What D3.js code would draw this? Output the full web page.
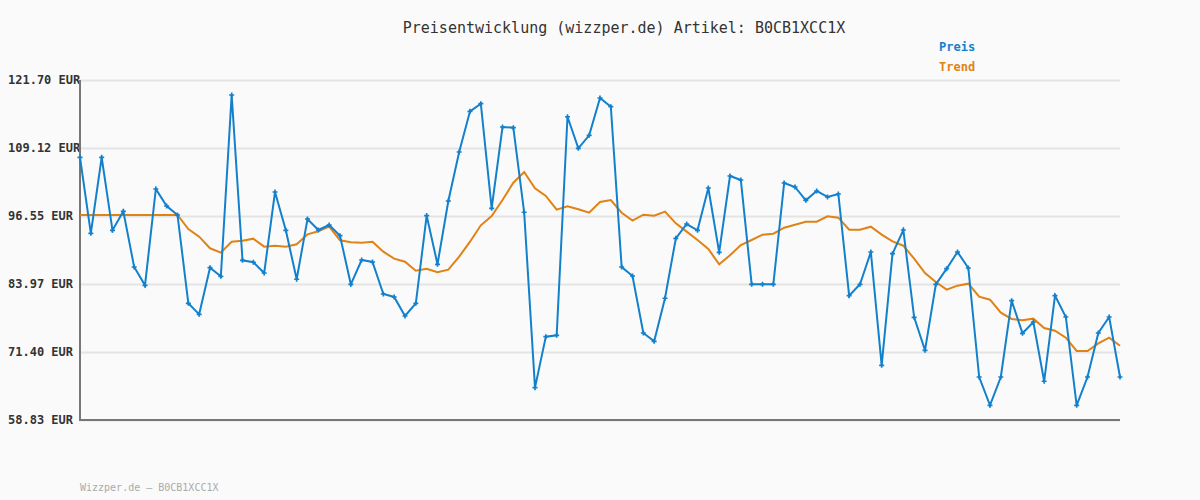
<!DOCTYPE html>
<html>
<head>
<meta charset="utf-8">
<script src="https://cdn.jsdelivr.net/npm/d3@7"></script>
<style>
  html, body { margin: 0; padding: 0; background: #fafafa; }
  svg { display: block; }
</style>
</head>
<body>
<svg id="chart" width="1200" height="500"></svg>
<script>
const title = "Preisentwicklung (wizzper.de) Artikel: B0CB1XCC1X";
const footer = "Wizzper.de \u2013 B0CB1XCC1X";
const seriesNames = ["Preis", "Trend"];
const yTickValues = [58.83, 71.40, 83.97, 96.55, 109.12, 121.70];
const yTickLabels = ["58.83 EUR", "71.40 EUR", "83.97 EUR", "96.55 EUR", "109.12 EUR", "121.70 EUR"];

const preis = [
  107.40, 93.35, 107.40, 93.90, 97.42, 87.12, 83.73, 101.55, 98.40, 96.74,
  80.41, 78.37, 87.00, 85.40, 118.93, 88.36, 88.00, 86.01, 100.99, 93.90,
  84.85, 96.00, 93.96, 94.89, 92.91, 83.92, 88.42, 88.05, 82.13, 81.58,
  78.06, 80.41, 96.62, 87.62, 99.33, 108.39, 115.91, 117.32, 97.97, 113.01,
  112.89, 97.24, 64.81, 74.24, 74.49, 114.91, 109.07, 111.47, 118.37, 116.77,
  87.12, 85.46, 74.92, 73.38, 81.34, 92.43, 95.07, 93.90, 101.73, 89.84,
  103.95, 103.21, 83.92, 83.92, 83.92, 102.66, 101.92, 99.45, 101.18, 100.07,
  100.62, 81.82, 83.92, 89.90, 68.94, 89.59, 93.96, 77.82, 71.72, 83.92,
  86.81, 89.90, 86.94, 66.78, 61.55, 66.78, 80.89, 74.86, 76.95, 65.99,
  81.82, 77.88, 61.55, 66.78, 74.92, 77.88, 66.78
];

const trend = [
  96.74, 96.74, 96.74, 96.74, 96.74, 96.74, 96.74, 96.74, 96.74, 96.74,
  94.15, 92.73, 90.58, 89.77, 91.80, 91.99, 92.36, 90.88, 91.06, 90.88,
  91.32, 93.17, 93.72, 94.58, 92.06, 91.69, 91.62, 91.80, 89.95, 88.66,
  88.10, 86.44, 86.81, 86.14, 86.63, 89.03, 91.80, 94.83, 96.55, 99.51,
  102.71, 104.69, 101.67, 100.25, 97.72, 98.35, 97.79, 97.16, 99.14, 99.51,
  97.16, 95.69, 96.79, 96.62, 97.35, 95.20, 93.66, 92.12, 90.45, 87.62,
  89.28, 91.19, 92.12, 93.10, 93.28, 94.39, 94.95, 95.50, 95.50, 96.49,
  96.24, 94.02, 94.02, 94.58, 93.10, 91.87, 91.06, 88.66, 86.01, 84.35,
  82.93, 83.67, 84.04, 81.63, 81.08, 78.68, 77.51, 77.27, 77.57, 75.84,
  75.35, 74.05, 71.59, 71.59, 73.01, 74.05, 72.57
];

const colors = { preis: "#1380cc", trend: "#e08214" };
const mono = "'DejaVu Sans Mono', 'Liberation Mono', monospace";

const svg = d3.select("#chart");
const mLeft = 80, mRight = 1120, mTop = 80, mBottom = 420;

const x = d3.scaleLinear().domain([0, preis.length - 1]).range([mLeft, mRight]);
const y = d3.scaleLinear().domain([yTickValues[0], yTickValues[yTickValues.length - 1]]).range([mBottom, mTop]);

svg.append("rect").attr("width", 1200).attr("height", 500).attr("fill", "#fafafa");

// grid
svg.append("g")
  .attr("transform", `translate(${mLeft},0)`)
  .call(d3.axisLeft(y).tickValues(yTickValues).tickSize(-(mRight - mLeft)).tickFormat(""))
  .call(g => g.select(".domain").remove())
  .call(g => g.selectAll("line").attr("stroke", "#e4e4e4").attr("stroke-width", 2));

// y labels (left-aligned at x=8)
svg.append("g")
  .attr("transform", `translate(${mLeft},0)`)
  .call(d3.axisLeft(y).tickValues(yTickValues).tickSize(0).tickPadding(0)
    .tickFormat((d, i) => yTickLabels[i]))
  .call(g => g.select(".domain").remove())
  .call(g => g.selectAll("text")
    .attr("x", 8 - mLeft).attr("text-anchor", "start")
    .attr("font-family", mono).attr("font-size", 12).attr("font-weight", "bold")
    .attr("fill", "#333"));

// axes lines
svg.append("path")
  .attr("d", `M${mLeft},${mTop}V${mBottom}H${mRight}`)
  .attr("fill", "none").attr("stroke", "#777").attr("stroke-width", 2);

const line = d3.line().x((d, i) => x(i)).y(d => y(d));

svg.append("path").datum(trend)
  .attr("d", line).attr("fill", "none")
  .attr("stroke", colors.trend).attr("stroke-width", 2);

svg.append("path").datum(preis)
  .attr("d", line).attr("fill", "none")
  .attr("stroke", colors.preis).attr("stroke-width", 2);

svg.append("g").selectAll("path").data(preis).join("path")
  .attr("transform", (d, i) => `translate(${x(i)},${y(d)})`)
  .attr("d", d3.symbol(d3.symbolCross, 14))
  .attr("fill", colors.preis);

// title
svg.append("text").attr("x", 624).attr("y", 33).attr("text-anchor", "middle")
  .attr("font-family", mono).attr("font-size", 15).attr("fill", "#333")
  .text(title);

// legend
svg.append("text").attr("x", 939).attr("y", 51)
  .attr("font-family", mono).attr("font-size", 12).attr("font-weight", "bold")
  .attr("fill", colors.preis).text(seriesNames[0]);
svg.append("text").attr("x", 939).attr("y", 71)
  .attr("font-family", mono).attr("font-size", 12).attr("font-weight", "bold")
  .attr("fill", colors.trend).text(seriesNames[1]);

// footer
svg.append("text").attr("x", 80).attr("y", 491)
  .attr("font-family", mono).attr("font-size", 10).attr("fill", "#aaa")
  .text(footer);
</script>
</body>
</html>
